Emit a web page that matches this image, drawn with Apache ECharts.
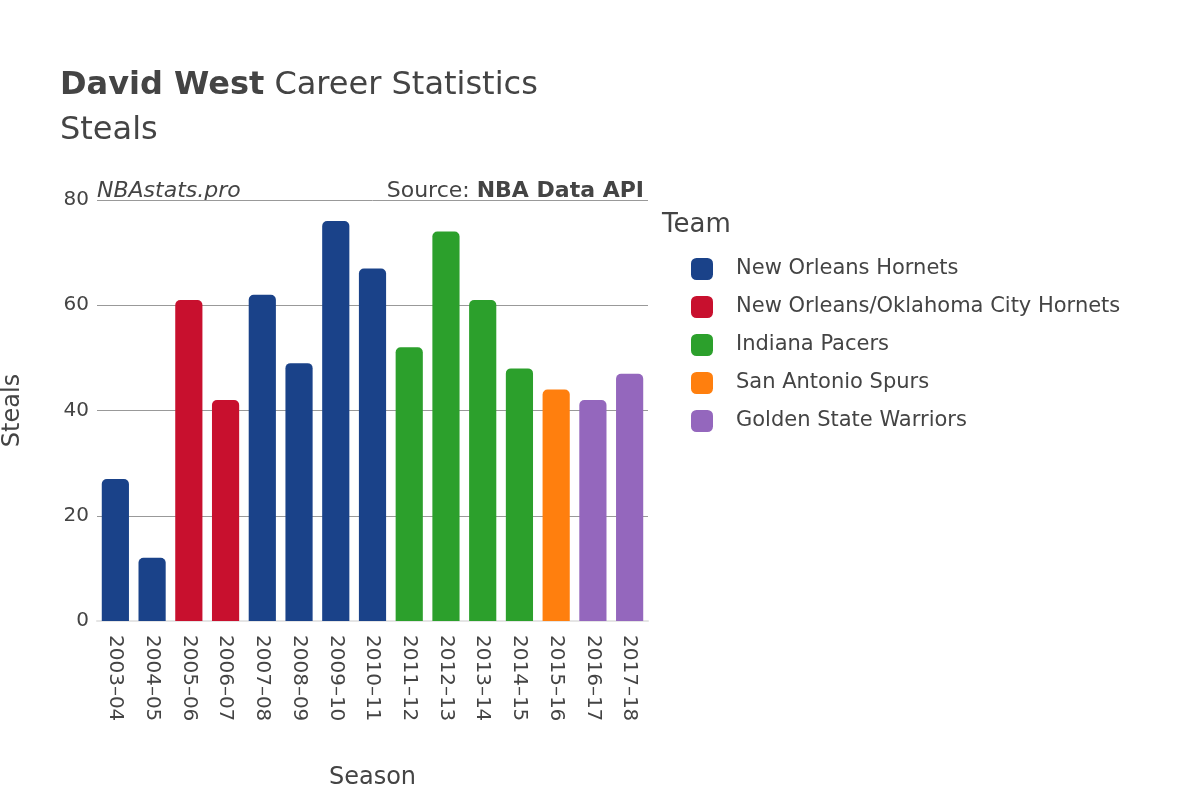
<!DOCTYPE html>
<html><head><meta charset="utf-8">
<script src="https://cdn.jsdelivr.net/npm/echarts@6/dist/echarts.min.js"></script>
<style>body{margin:0}#c{width:1200px;height:800px}</style>
</head><body><div id="c"></div>
<script>
var seasons = ['2003–04','2004–05','2005–06','2006–07','2007–08','2008–09','2009–10','2010–11','2011–12','2012–13','2013–14','2014–15','2015–16','2016–17','2017–18'];
var steals = [27, 12, 61, 42, 62, 49, 76, 67, 52, 74, 61, 48, 44, 42, 47];
var seasonTeam = [0, 0, 1, 1, 0, 0, 0, 0, 2, 2, 2, 2, 3, 4, 4];
var teams = ['New Orleans Hornets', 'New Orleans/Oklahoma City Hornets', 'Indiana Pacers', 'San Antonio Spurs', 'Golden State Warriors'];
var teamColors = ['#1a4289', '#c8102e', '#2ca02c', '#ff7f0e', '#9467bd'];
var yTicks = [0, 20, 40, 60, 80];

var font = 'DejaVu Sans';
var chart = echarts.init(document.getElementById('c'));

var series = teams.map(function (t, ti) {
    return {
        name: t,
        type: 'bar',
        stack: 'all',
        barWidth: '74%',
        itemStyle: { color: teamColors[ti], borderRadius: [5, 5, 0, 0] },
        data: steals.map(function (v, i) { return seasonTeam[i] === ti ? v : null; })
    };
});

chart.setOption({
    textStyle: { fontFamily: font },
    animation: false,
    grid: { left: 95, right: 552, top: 200, bottom: 179 },
    xAxis: {
        type: 'category',
        data: seasons,
        name: 'Season', nameLocation: 'middle', nameGap: 145,
        nameTextStyle: { fontSize: 24, color: '#444' },
        axisLine: { lineStyle: { color: '#e5e5e5', width: 2 } },
        axisTick: { show: false },
        axisLabel: { rotate: -90, fontSize: 20, color: '#444', margin: 14 }
    },
    yAxis: {
        type: 'value', min: yTicks[0], max: yTicks[yTicks.length - 1], interval: 20,
        name: 'Steals', nameLocation: 'middle', nameGap: 72,
        nameTextStyle: { fontSize: 24, color: '#444' },
        axisLabel: { fontSize: 20, color: '#444', margin: 8 },
        splitLine: { lineStyle: { color: '#999' } }
    },
    legend: {
        orient: 'vertical', left: 686, top: 253,
        icon: 'roundRect', itemWidth: 22, itemHeight: 22, itemGap: 16,
        textStyle: { fontSize: 21, color: '#444', padding: [0, 0, 0, 18] },
        data: teams
    },
    graphic: [
        { type: 'text', left: 60, top: 70, style: { text: '{b|David West} Career Statistics', font: '32px DejaVu Sans', fill: '#444',
            rich: { b: { fontWeight: 'bold', fontSize: 32, fontFamily: font, fill: '#444' } } } },
        { type: 'text', left: 60, top: 115, style: { text: 'Steals', font: '32px DejaVu Sans', fill: '#444' } },
        { type: 'text', left: 97, top: 180, style: { text: 'NBAstats.pro', font: 'italic 22px DejaVu Sans', fill: '#444' } },
        { type: 'text', right: 556, top: 180, style: { text: 'Source: {b|NBA Data API}', font: '22px DejaVu Sans', fill: '#444',
            rich: { b: { fontWeight: 'bold', fontSize: 22, fontFamily: font, fill: '#444' } } } },
        { type: 'text', left: 662, top: 212, style: { text: 'Team', font: '26px DejaVu Sans', fill: '#444' } }
    ],
    series: series
});
</script>
</body></html>
